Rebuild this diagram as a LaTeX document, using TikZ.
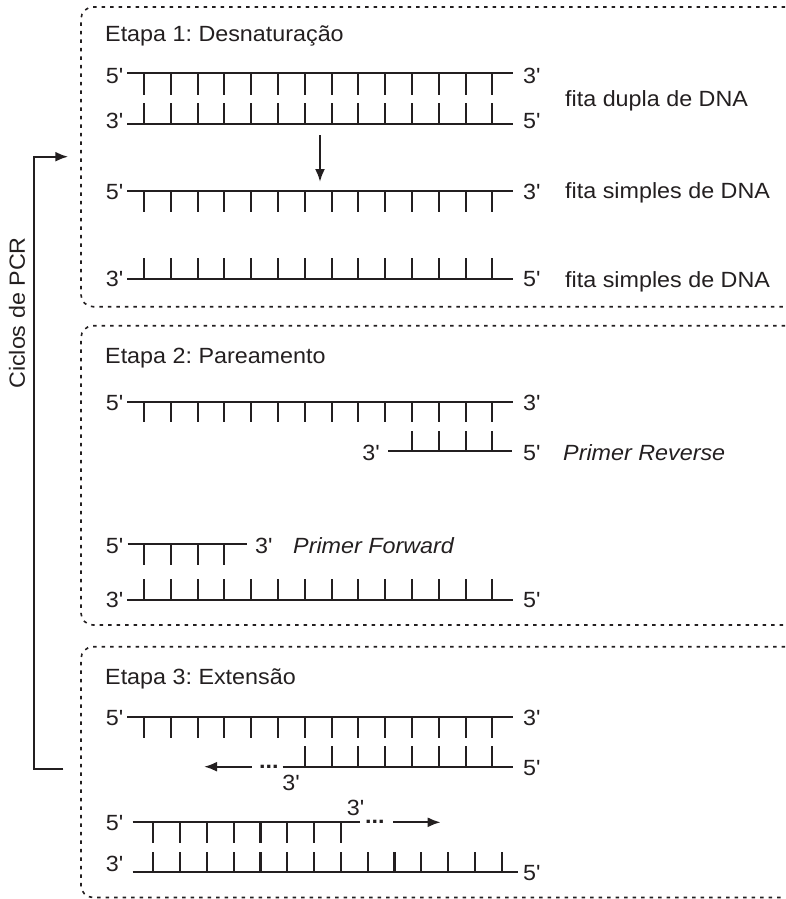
\documentclass[tikz,border=0pt]{standalone}
\usepackage{fontspec}
\setmainfont{Liberation Sans}[FakeStretch=1.06,Ligatures=TeXOff]
\usetikzlibrary{arrows.meta}
\definecolor{ink}{HTML}{231F20}
\frenchspacing
\begin{document}
\frenchspacing
\begin{tikzpicture}[x=1pt,y=-1pt,
  strand/.style={line width=2.2pt,draw=ink},
  tick/.style={line width=2.1pt,draw=ink},
  box/.style={draw=ink,line width=1.6pt,dash pattern=on 3.5pt off 5pt,rounded corners=12pt},
  lbl/.style={font=\fontsize{22}{24}\selectfont,text=ink,inner sep=0pt},
  ilbl/.style={lbl,font=\fontsize{22}{24}\selectfont\itshape},
  arr/.style={line width=2.2pt,draw=ink,-{Latex[length=13pt,width=10pt]}}]
\useasboundingbox (0,0) rectangle (785,899);

% ---------- dashed boxes (open to the right) ----------
\draw[box] (785,7) -- (81,7) -- (81,306.7) -- (785,306.7);
\draw[box] (785,325.7) -- (81,325.7) -- (81,625) -- (785,625);
\draw[box] (785,646.7) -- (81,646.7) -- (81,897.5) -- (785,897.5);

% ---------- cycle arrow ----------
\coordinate (cyS) at (63.3,769);
\coordinate (cyT) at (68.3,156.7);
\draw[arr] (cyS) -- ++(-29.3,0) |- (cyT);
\node[lbl,rotate=90] (ciclos) at (17,313) {Ciclos de PCR};

% ================= Etapa 1 =================
\node[lbl,anchor=base west] (t1) at (105,41.7) {Etapa 1: Desnaturação};
% double strand
\coordinate (a1) at (127,73.3); \coordinate (a2) at (513,73.3);
\draw[strand] (a1) -- (a2);
\foreach \k in {0,...,13} \draw[tick] ({144+26.8*\k},73.3) -- ++(0,21.7);
\node[lbl,anchor=base east] (a5) at (123.5,83) {5'};
\node[lbl,anchor=base west] (a3) at (523,83) {3'};
\coordinate (b1) at (127,124.3); \coordinate (b2) at (513,124.3);
\draw[strand] (b1) -- (b2);
\foreach \k in {0,...,13} \draw[tick] ({144+26.8*\k},124.3) -- ++(0,-21.3);
\node[lbl,anchor=base east] (b3) at (123.5,128.3) {3'};
\node[lbl,anchor=base west] (b5) at (523,128.3) {5'};
\node[lbl,anchor=base west] (fd) at (565,106) {fita dupla de DNA};
% denaturation arrow
\coordinate (d1) at (320,135); \coordinate (d2) at (320,182);
\draw[arr] (d1) -- (d2);
% single strands
\coordinate (c1) at (127,191); \coordinate (c2) at (513,191);
\draw[strand] (c1) -- (c2);
\foreach \k in {0,...,13} \draw[tick] ({144+26.8*\k},191) -- ++(0,20.7);
\node[lbl,anchor=base east] (c5) at (123.5,199.3) {5'};
\node[lbl,anchor=base west] (c3) at (523,199.3) {3'};
\node[lbl,anchor=base west] (fs1) at (565,198) {fita simples de DNA};
\coordinate (e1) at (127,279.3); \coordinate (e2) at (513,279.3);
\draw[strand] (e1) -- (e2);
\foreach \k in {0,...,13} \draw[tick] ({144+26.8*\k},279.3) -- ++(0,-21.3);
\node[lbl,anchor=base east] (e3) at (123.5,286.7) {3'};
\node[lbl,anchor=base west] (e5) at (523,286.7) {5'};
\node[lbl,anchor=base west] (fs2) at (565,287) {fita simples de DNA};

% ================= Etapa 2 =================
\node[lbl,anchor=base west] (t2) at (105,363) {Etapa 2: Pareamento};
\coordinate (f1) at (127,401.7); \coordinate (f2) at (513,401.7);
\draw[strand] (f1) -- (f2);
\foreach \k in {0,...,13} \draw[tick] ({144+26.8*\k},401.7) -- ++(0,20.5);
\node[lbl,anchor=base east] (f5) at (123.5,410) {5'};
\node[lbl,anchor=base west] (f3) at (523,410) {3'};
% primer reverse
\coordinate (g1) at (388,451); \coordinate (g2) at (512,451);
\draw[strand] (g1) -- (g2);
\foreach \k in {10,...,13} \draw[tick] ({144+26.8*\k},451) -- ++(0,-20.3);
\node[lbl,anchor=base east] (g3) at (380,460) {3'};
\node[lbl,anchor=base west] (g5) at (523,460) {5'};
\node[ilbl,anchor=base west] (pr) at (563,460) {Primer Reverse};
% primer forward
\coordinate (h1) at (127.7,544); \coordinate (h2) at (246.7,544);
\draw[strand] (h1) -- (h2);
\foreach \k in {0,...,3} \draw[tick] ({144+26.8*\k},544) -- ++(0,21);
\node[lbl,anchor=base east] (h5) at (123.5,553) {5'};
\node[lbl,anchor=base west] (h3) at (255,553) {3'};
\node[ilbl,anchor=base west] (pf) at (293,553) {Primer Forward};
% template
\coordinate (i1) at (127,600); \coordinate (i2) at (513,600);
\draw[strand] (i1) -- (i2);
\foreach \k in {0,...,13} \draw[tick] ({144+26.8*\k},600) -- ++(0,-20.7);
\node[lbl,anchor=base east] (i3) at (123.5,607) {3'};
\node[lbl,anchor=base west] (i5) at (523,607) {5'};

% ================= Etapa 3 =================
\node[lbl,anchor=base west] (t3) at (105,684) {Etapa 3: Extensão};
\coordinate (j1) at (127,716.7); \coordinate (j2) at (513,716.7);
\draw[strand] (j1) -- (j2);
\foreach \k in {0,...,13} \draw[tick] ({144+26.8*\k},716.7) -- ++(0,21.3);
\node[lbl,anchor=base east] (j5) at (123.5,725) {5'};
\node[lbl,anchor=base west] (j3) at (523,725) {3'};
% reverse primer being extended
\coordinate (k1) at (282.7,766.7); \coordinate (k2) at (512.7,766.7);
\draw[strand] (k1) -- (k2);
\foreach \k in {6,...,13} \draw[tick] ({144+26.8*\k},766.7) -- ++(0,-20.7);
\node[lbl,anchor=base west] (k5) at (523,775) {5'};
\node[lbl,anchor=base west,font=\fontsize{22}{24}\selectfont\bfseries] (kd) at (259,768) {...};
\node[lbl,anchor=base] (k3) at (291,790) {3'};
\coordinate (ka) at (251.7,766.7); \coordinate (kb) at (204,766.7);
\draw[arr] (ka) -- (kb);
% forward primer being extended
\coordinate (l1) at (132.7,822.3); \coordinate (l2) at (360,822.3);
\draw[strand] (l1) -- (l2);
\foreach \k in {0,...,7} \draw[tick] ({153.3+26.8*\k},822.3) -- ++(0,20.4);
\node[lbl,anchor=base east] (l5) at (123.5,830) {5'};
\node[lbl,anchor=base] (l3) at (355.5,815) {3'};
\node[lbl,anchor=base west,font=\fontsize{22}{24}\selectfont\bfseries] (ld) at (365,823.6) {...};
\coordinate (la) at (393.3,822.3); \coordinate (lb) at (440.7,822.3);
\draw[arr] (la) -- (lb);
% template
\coordinate (m1) at (132.7,872.3); \coordinate (m2) at (518.3,872.3);
\draw[strand] (m1) -- (m2);
\foreach \k in {0,...,13} \draw[tick] ({153.3+26.8*\k},872.3) -- ++(0,-20.6);
\node[lbl,anchor=base east] (m3) at (123.5,871.7) {3'};
\node[lbl,anchor=base west] (m5) at (523,880) {5'};
\end{tikzpicture}
\end{document}
